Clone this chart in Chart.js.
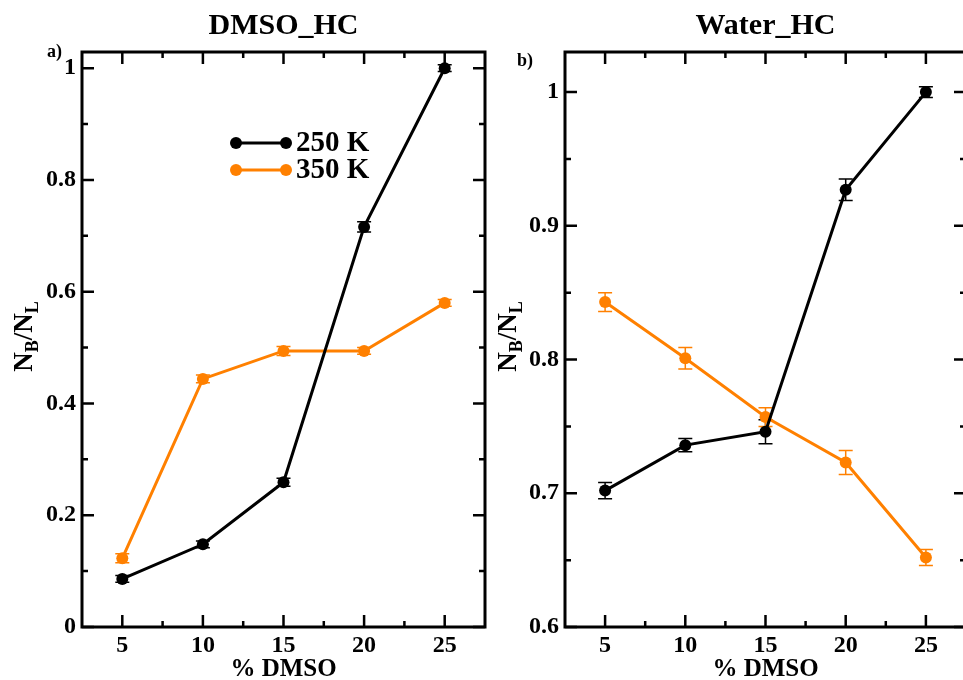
<!DOCTYPE html>
<html>
<head>
<meta charset="utf-8">
<script src="https://cdn.jsdelivr.net/npm/chart.js@4.4.0/dist/chart.umd.min.js"></script>
<style>
  html, body { margin: 0; padding: 0; background: #fff; }
  body { width: 963px; height: 680px; overflow: hidden; position: relative; }
  canvas { position: absolute; top: 0; }
  #left { left: 0px; }
  #right { left: 480px; }
</style>
</head>
<body>
<canvas id="left" width="500" height="680"></canvas>
<canvas id="right" width="500" height="680"></canvas>
<script>
// % DMSO on the x axis
const dmso = [5, 10, 15, 20, 25];

// panel a) DMSO_HC
const dmsoHC250 = [0.086, 0.148, 0.259, 0.716, 1.0];
const dmsoHC250Err = [0.006, 0.006, 0.007, 0.009, 0.006];
const dmsoHC350 = [0.123, 0.444, 0.494, 0.494, 0.580];
const dmsoHC350Err = [0.008, 0.007, 0.008, 0.006, 0.006];

// panel b) Water_HC
const waterHC250 = [0.702, 0.736, 0.746, 0.927, 1.0];
const waterHC250Err = [0.006, 0.005, 0.009, 0.008, 0.004];
const waterHC350 = [0.843, 0.801, 0.757, 0.723, 0.652];
const waterHC350Err = [0.007, 0.008, 0.007, 0.009, 0.006];

// tick labels
const xTicks = [5, 10, 15, 20, 25];
const xMinor = [7.5, 12.5, 17.5, 22.5];
const yTicksA = [0, 0.2, 0.4, 0.6, 0.8, 1];
const yMinorA = [0.1, 0.3, 0.5, 0.7, 0.9];
const yTicksB = [0.6, 0.7, 0.8, 0.9, 1];
const yMinorB = [0.65, 0.75, 0.85, 0.95];

const BLACK = '#000000';
const ORANGE = '#ff8000';
const SERIF = '"Liberation Serif", "DejaVu Serif", serif';

const toPoints = (xs, ys) => xs.map((x, i) => ({ x: x, y: ys[i] }));

// frame with inward ticks, titles, legend and error bars
const decor = {
    id: 'decor',
    beforeDatasetsDraw(chart, args, opts) {
        const ctx = chart.ctx;
        const xs = chart.scales.x, ys = chart.scales.y;
        ctx.save();
        chart.data.datasets.forEach((ds, i) => {
            const errs = opts.errors[i];
            ctx.strokeStyle = ds.borderColor;
            ctx.lineWidth = 1.5;
            ds.data.forEach((p, j) => {
                const px = xs.getPixelForValue(p.x);
                const top = ys.getPixelForValue(p.y + errs[j]);
                const bot = ys.getPixelForValue(p.y - errs[j]);
                ctx.beginPath();
                ctx.moveTo(px, top); ctx.lineTo(px, bot);
                ctx.moveTo(px - 7, top); ctx.lineTo(px + 7, top);
                ctx.moveTo(px - 7, bot); ctx.lineTo(px + 7, bot);
                ctx.stroke();
            });
        });
        ctx.restore();
    },
    afterDraw(chart, args, opts) {
        const ctx = chart.ctx;
        const a = chart.chartArea;
        const xs = chart.scales.x, ys = chart.scales.y;
        ctx.save();
        ctx.strokeStyle = BLACK;
        ctx.fillStyle = BLACK;

        // ticks on all four sides, pointing in
        ctx.lineWidth = 2.5;
        const xt = (vals, len) => vals.forEach(v => {
            const px = xs.getPixelForValue(v);
            ctx.beginPath();
            ctx.moveTo(px, a.bottom); ctx.lineTo(px, a.bottom - len);
            ctx.moveTo(px, a.top); ctx.lineTo(px, a.top + len);
            ctx.stroke();
        });
        const yt = (vals, len) => vals.forEach(v => {
            const py = ys.getPixelForValue(v);
            ctx.beginPath();
            ctx.moveTo(a.left, py); ctx.lineTo(a.left + len, py);
            ctx.moveTo(a.right, py); ctx.lineTo(a.right - len, py);
            ctx.stroke();
        });
        xt(xTicks, 12); xt(xMinor, 6);
        yt(opts.yMajor, 12); yt(opts.yMinor, 6);

        // frame
        ctx.lineWidth = 3;
        ctx.strokeRect(a.left, a.top, a.right - a.left, a.bottom - a.top);

        const cx = (a.left + a.right) / 2;
        const cy = (a.top + a.bottom) / 2;

        // panel title
        ctx.textAlign = 'center';
        ctx.textBaseline = 'alphabetic';
        ctx.font = 'bold 30px ' + SERIF;
        ctx.fillText(opts.title, cx, 34);

        // panel letter
        ctx.textAlign = 'left';
        ctx.font = 'bold 18px ' + SERIF;
        ctx.fillText(opts.letter, opts.letterX, opts.letterY);

        // x axis title
        ctx.textAlign = 'center';
        ctx.font = 'bold 25px ' + SERIF;
        ctx.fillText('% DMSO', cx, 676);

        // y axis title N_B/N_L
        ctx.save();
        ctx.translate(opts.yLabelX, cy - 3);
        ctx.rotate(-Math.PI / 2);
        ctx.textAlign = 'left';
        const big = 'bold 27px ' + SERIF, small = 'bold 18px ' + SERIF;
        const parts = [['N', big, 0], ['B', small, 6], ['/', big, 0], ['N', big, 0], ['L', small, 6]];
        let total = 0;
        parts.forEach(p => { ctx.font = p[1]; total += ctx.measureText(p[0]).width; });
        let u = -total / 2;
        parts.forEach(p => {
            ctx.font = p[1];
            ctx.fillText(p[0], u, p[2]);
            u += ctx.measureText(p[0]).width;
        });
        ctx.restore();

        // legend
        if (opts.legend) {
            ctx.textAlign = 'left';
            ctx.textBaseline = 'middle';
            ctx.font = 'bold 29px ' + SERIF;
            chart.data.datasets.forEach((ds, i) => {
                const ly = 143 + i * 27;
                ctx.strokeStyle = ds.borderColor;
                ctx.fillStyle = ds.borderColor;
                ctx.lineWidth = 3;
                ctx.beginPath();
                ctx.moveTo(236, ly); ctx.lineTo(286, ly);
                ctx.stroke();
                [236, 286].forEach(px => {
                    ctx.beginPath();
                    ctx.arc(px, ly, 6, 0, Math.PI * 2);
                    ctx.fill();
                });
                ctx.fillStyle = BLACK;
                ctx.fillText(ds.label, 296, ly + 1);
            });
        }
        ctx.restore();
    }
};

function makePanel(id, s250, s350, e250, e350, yMin, yMax, yMajor, yMinor, yWidth, padRight, deco) {
    const ctx = document.getElementById(id).getContext('2d');
    return new Chart(ctx, {
        type: 'line',
        data: {
            datasets: [{
                label: '250 K',
                data: toPoints(dmso, s250),
                borderColor: BLACK,
                backgroundColor: BLACK,
                borderWidth: 3,
                pointRadius: 6,
                pointBorderWidth: 0,
                pointBackgroundColor: BLACK,
                tension: 0
            }, {
                label: '350 K',
                data: toPoints(dmso, s350),
                borderColor: ORANGE,
                backgroundColor: ORANGE,
                borderWidth: 3,
                pointRadius: 6,
                pointBorderWidth: 0,
                pointBackgroundColor: ORANGE,
                tension: 0
            }]
        },
        options: {
            responsive: false,
            animation: false,
            devicePixelRatio: 1,
            layout: { padding: { top: 52, right: padRight, left: 0, bottom: 0 } },
            scales: {
                x: {
                    type: 'linear',
                    min: 2.5,
                    max: 27.5,
                    grid: { display: false, drawTicks: false },
                    border: { display: false },
                    afterBuildTicks: s => { s.ticks = xTicks.map(v => ({ value: v })); },
                    afterFit: s => { s.height = 53; },
                    ticks: {
                        color: BLACK,
                        padding: 4,
                        maxRotation: 0,
                        font: { family: SERIF, size: 24, weight: 'bold' },
                        callback: v => String(v)
                    }
                },
                y: {
                    min: yMin,
                    max: yMax,
                    grid: { display: false, drawTicks: false },
                    border: { display: false },
                    afterBuildTicks: s => { s.ticks = yMajor.map(v => ({ value: v })); },
                    afterFit: s => { s.width = yWidth; },
                    ticks: {
                        color: BLACK,
                        padding: 6,
                        font: { family: SERIF, size: 24, weight: 'bold' },
                        callback: v => String(v)
                    }
                }
            },
            plugins: {
                legend: { display: false },
                tooltip: { enabled: false },
                decor: Object.assign({ errors: [e250, e350], yMajor: yMajor, yMinor: yMinor }, deco)
            }
        },
        plugins: [decor]
    });
}

// panel a)
makePanel('left', dmsoHC250, dmsoHC350, dmsoHC250Err, dmsoHC350Err,
    0, 1.029, yTicksA, yMinorA, 82, 15,
    { title: 'DMSO_HC', letter: 'a)', letterX: 47, letterY: 57, yLabelX: 32, legend: true });

// panel b)
makePanel('right', waterHC250, waterHC350, waterHC250Err, waterHC350Err,
    0.6, 1.03, yTicksB, yMinorB, 85, 14,
    { title: 'Water_HC', letter: 'b)', letterX: 37, letterY: 66, yLabelX: 36, legend: false });
</script>
</body>
</html>
